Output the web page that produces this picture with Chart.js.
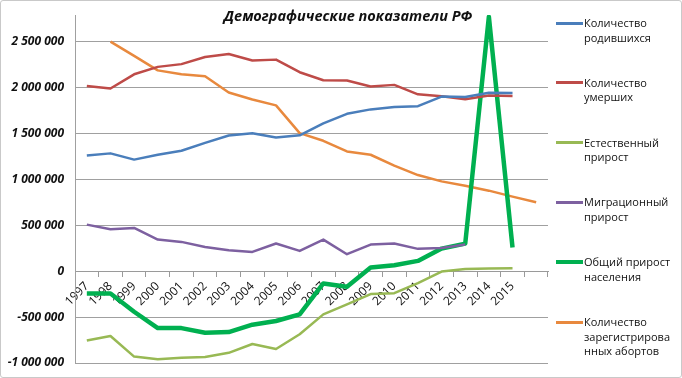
<!DOCTYPE html>
<html><head><meta charset="utf-8">
<script src="https://cdn.jsdelivr.net/npm/chart.js@4/dist/chart.umd.min.js"></script>
<style>
html,body{margin:0;padding:0;background:#fff;}
#wrap{position:relative;width:682px;height:378px;overflow:hidden;background:#fff;}
#c{position:absolute;left:0;top:0;}
#frame{position:absolute;left:0;top:0;width:682px;height:378px;box-sizing:border-box;border:1.5px solid #c9c9c9;border-radius:3px;pointer-events:none;}
#title{position:absolute;left:12px;width:672px;top:6px;text-align:center;font:italic bold 14.5px "Open Sans",sans-serif;color:#111;}
#legend{position:absolute;left:556px;top:0;}
.li{position:absolute;left:0;width:122px;}
.ls{position:absolute;left:0;width:27px;}
.lt{position:absolute;left:28px;width:92px;font:11px "Open Sans",sans-serif;line-height:14.5px;color:#111;overflow-wrap:anywhere;}
</style></head>
<body><div id="wrap"><canvas id="c" width="682" height="378"></canvas><div id="title">Демографические показатели РФ</div><div id="legend"></div><div id="frame"></div></div>
<script>
const categories = ['1997','1998','1999','2000','2001','2002','2003','2004','2005','2006','2007','2008','2009','2010','2011','2012','2013','2014','2015',''];
const seriesNames = ['Количество родившихся','Количество умерших','Естественный прирост','Миграционный прирост','Общий прирост населения','Количество зарегистрированных абортов'];
const births = [1260000,1283000,1215000,1267000,1312000,1397000,1477000,1502000,1457000,1480000,1610000,1714000,1762000,1789000,1797000,1902000,1896000,1943000,1941000,null];
const deaths = [2016000,1989000,2144000,2225000,2255000,2332000,2366000,2295000,2304000,2167000,2080000,2076000,2011000,2029000,1926000,1906000,1872000,1914000,1909000,null];
const naturalGrowth = [-756000,-706000,-930000,-959000,-943000,-935000,-889000,-793000,-847000,-687000,-470000,-362000,-249000,-240000,-129000,-4000,24000,30000,32000,null];
const migrationGrowth = [507000,457000,471000,344000,319000,264000,228000,210000,301000,221000,344000,185000,290000,301000,243000,252000,290000,null,null,null];
const totalGrowth = [-243000,-243000,-442000,-620000,-620000,-670000,-663000,-583000,-543000,-471000,-134000,-170000,40000,65000,112000,246000,300000,2770000,257000,null];
const abortions = [null,2500000,2345000,2187000,2144000,2122000,1946000,1870000,1806000,1503000,1420000,1304000,1268000,1149000,1047000,978000,931000,877000,812000,750000];
const yTickValues = [-1000000,-500000,0,500000,1000000,1500000,2000000,2500000];
const yMin = -1000000, yMax = 2790000;

const colors = ['#4A7EBB','#BE4B48','#98B954','#7D60A0','#00B050','#E8893E'];
const widths = [2.5,2.5,2.5,2.5,4.5,2.5];
const values = [births,deaths,naturalGrowth,migrationGrowth,totalGrowth,abortions];

const datasets = values.map((v,i)=>({label:seriesNames[i],data:v,borderColor:colors[i],backgroundColor:colors[i],borderWidth:widths[i],pointRadius:0,tension:0,fill:false,spanGaps:false,borderJoinStyle:'round',borderCapStyle:'butt'}));

const fmt = v => String(Math.round(v)).replace(/\B(?=(\d{3})+(?!\d))/g,' ');

const chart = new Chart(document.getElementById('c'),{
  type:'line',
  data:{labels:categories,datasets},
  options:{
    responsive:false,animation:false,
    layout:{padding:{left:0,right:134,top:15,bottom:15}},
    plugins:{legend:{display:false},title:{display:false},tooltip:{enabled:false}},
    scales:{
      x:{type:'category',offset:true,position:{y:0},
        grid:{offset:true,drawOnChartArea:false,drawTicks:true,tickLength:5,color:'#9a9a9a'},
        border:{display:true,color:'#9a9a9a',width:1},
        ticks:{autoSkip:false,maxRotation:45,minRotation:45,padding:3,color:'#111',font:{family:'"Open Sans"',size:12}}},
      y:{min:yMin,max:yMax,
        afterFit:s=>{s.width=75; s.paddingTop=0; s.paddingBottom=0;},
        afterBuildTicks:s=>{s.ticks = yTickValues.map(v=>({value:v}));},
        grid:{color:'#a0a0a0',lineWidth:1,drawTicks:false},
        border:{display:true,color:'#a0a0a0',width:1},
        ticks:{padding:11,color:'#111',
          font:{family:'"Open Sans"',size:12,style:'italic',weight:'bold'},
          callback:v=> fmt(v)}}
    }
  }
});

const leg = document.getElementById('legend');
const entryTop = 16, entryGap = 59.8;
chart.data.datasets.forEach((ds,i)=>{
  const item = document.createElement('div'); item.className='li';
  item.style.top = (entryTop + i*entryGap) + 'px';
  const sw = document.createElement('div'); sw.className='ls';
  const h = ds.borderWidth >= 4 ? 4 : 3;
  sw.style.height = h+'px'; sw.style.top = (7 - h/2)+'px'; sw.style.background = ds.borderColor;
  const t = document.createElement('div'); t.className='lt'; t.textContent = ds.label;
  item.appendChild(sw); item.appendChild(t); leg.appendChild(item);
});
</script></body></html>
